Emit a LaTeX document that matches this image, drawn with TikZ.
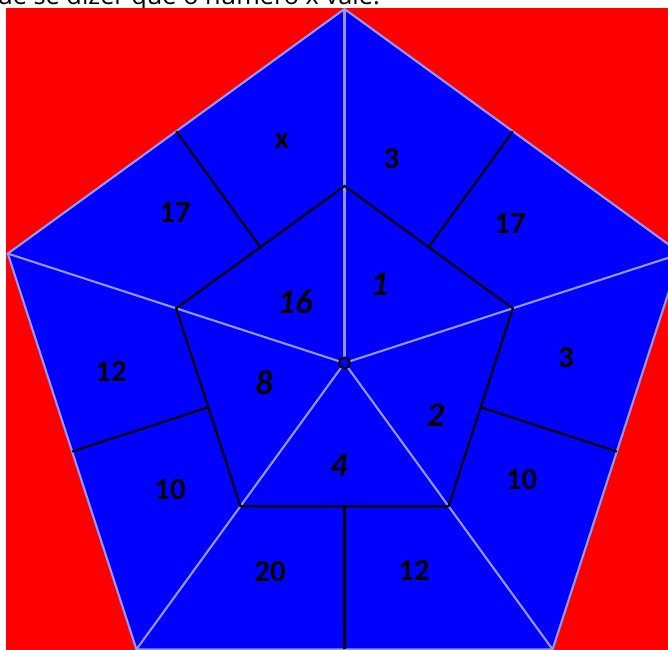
\documentclass[tikz,border=0pt]{standalone}
\usepackage{fontspec}
\setmainfont{Carlito}
\newfontfamily\questionfont{Open Sans}
\usetikzlibrary{calc}
\definecolor{bgred}{RGB}{255,0,0}
\definecolor{tileblue}{RGB}{0,0,255}
\definecolor{spokeblue}{RGB}{150,150,255}

\begin{document}
\begin{tikzpicture}[x=0.75pt,y=0.75pt,
  spoke/.style={draw=spokeblue, line width=1.6pt},
  seam/.style={draw=black, line width=1.6pt},
  outnum/.style={font=\bfseries\fontsize{23}{24}\selectfont, inner sep=0pt},
  innum/.style={font=\bfseries\itshape\fontsize{26}{28}\selectfont, inner sep=0pt}]
  \clip (0,0) rectangle (668,650);
  \node[anchor=base west, inner sep=0pt, font=\questionfont\fontsize{19}{22}\selectfont] (question) at (-3,645) {ue se dizer que o número x vale:};
  \fill[bgred] (6,0) rectangle (668,642);

  % pentagon points
  \coordinate (c) at (344.5,287);
  \foreach \k in {0,...,4} {
    \coordinate (o\k) at ($(c)+({90+72*\k}:354)$);
    \coordinate (i\k) at ($(c)+({90+72*\k}:177)$);
    \coordinate (om\k) at ($(c)+({126+72*\k}:286.4)$);
    \coordinate (im\k) at ($(c)+({126+72*\k}:143.2)$);
  }
  \fill[tileblue] (o0) -- (o1) -- (o2) -- (o3) -- (o4) -- cycle;
  \foreach \k in {0,...,4} \draw[spoke] (c) -- (o\k);
  \draw[spoke] (o0) -- (o1) -- (o2) -- (o3) -- (o4) -- cycle;
  \draw[seam] (i0) -- (i1) -- (i2) -- (i3) -- (i4) -- cycle;
  \foreach \k in {0,...,4} \draw[seam] (im\k) -- (om\k);
  \draw[seam, fill=tileblue] (c) circle (5.5);

  % outer ring
  \node[outnum] (lx) at (282,509) {x};
  \node[outnum] (ltopr) at (391.5,491) {3};
  \node[outnum] (luppr) at (510,426) {17};
  \node[outnum] (lrgt) at (566,292) {3};
  \node[outnum] (llowr) at (521.5,170) {10};
  \node[outnum] (lbotr) at (414,80) {12};
  \node[outnum] (lbotl) at (270,78) {20};
  \node[outnum] (llowl) at (170,160.5) {10};
  \node[outnum] (llft) at (111,279) {12};
  \node[outnum] (luppl) at (175,437) {17};

  % inner star
  \node[innum] (ltl) at (295,348) {16};
  \node[innum] (ltr) at (379.5,366) {1};
  \node[innum] (lr) at (435.5,235) {2};
  \node[innum] (lb) at (339,185) {4};
  \node[innum] (ll) at (264,267) {8};
\end{tikzpicture}
\end{document}
